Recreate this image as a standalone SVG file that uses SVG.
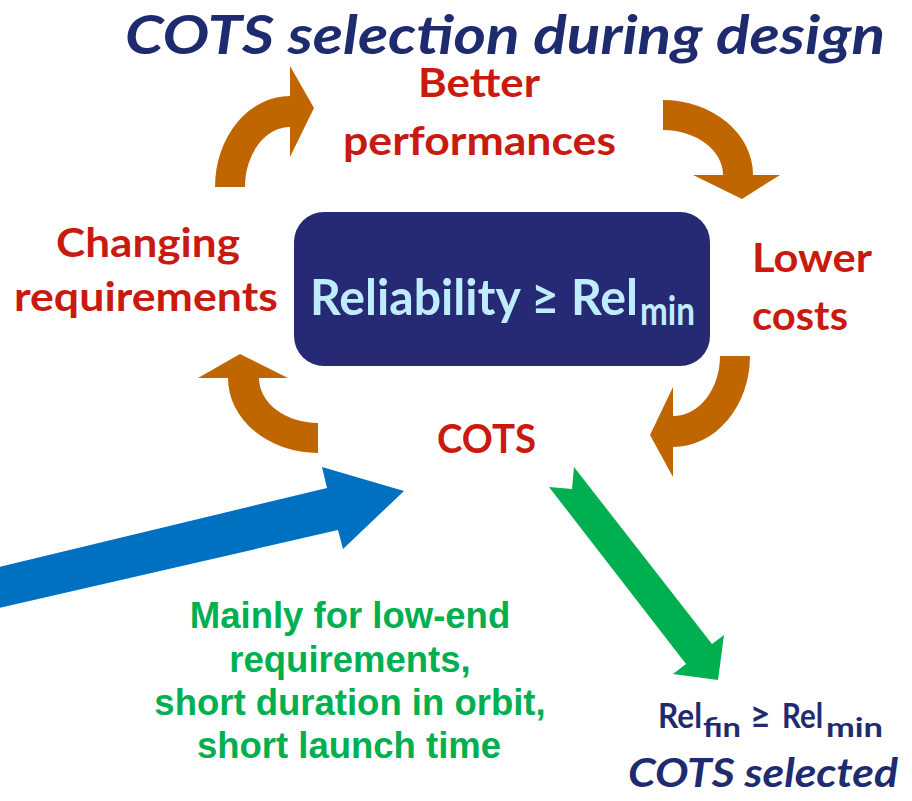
<svg xmlns="http://www.w3.org/2000/svg" width="912" height="801" viewBox="0 0 912 801">
  <style>
    .lbl { font-family: Lato, "Open Sans", "Liberation Sans", sans-serif; font-weight: bold; }
    .red { fill: #C91A10; font-size: 40px; }
    .navy { fill: #1F2B6F; }
    .ital { font-style: italic; }
    .note { font-family: "Liberation Sans", Arial, sans-serif; font-weight: bold; font-size: 36.5px; fill: #00B050; text-anchor: middle; }
    .cycle { fill: #C06600; }
  </style>
  <rect width="912" height="801" fill="#FFFFFF"/>

  <!-- heading -->
  <g id="title">
    <text class="lbl navy ital" x="125" y="54" font-size="54" textLength="760" lengthAdjust="spacingAndGlyphs">COTS selection during design</text>
  </g>

  <!-- arrows: the design loop and the entry/exit paths -->
  <g id="connectors">
    <path class="cycle" d="M215,187 A75,91 0 0 1 290,96 L290,66 L314,108 L290,157 L290,127 A45,60 0 0 0 245,187 Z"/>
    <path class="cycle" d="M663,100 A90,75 0 0 1 753,175 L780,175 L742,199 L693,175 L723,175 A60,45 0 0 0 663,130 Z"/>
    <path class="cycle" d="M750,356 A77,91 0 0 1 673,447 L673,477 L650,435 L673,387 L673,416 A47,60 0 0 0 720,356 Z"/>
    <path class="cycle" d="M318,453 A90,75 0 0 1 228,378 L198,378 L240,354 L288,378 L259,378 A59,45 0 0 0 318,423 Z"/>
    <path fill="#0070C0" d="M-5,568 L327,488 L322,467 L404,491 L343,549 L338,530 L-5,609 Z"/>
    <path fill="#00B050" d="M549,487 L572,489 L574,467 L712,644 L724,635 L718,680 L673,674 L686,664 Z"/>
  </g>

  <!-- central requirement -->
  <g id="node-reliability">
    <rect x="294" y="212" width="416" height="154" rx="30" ry="30" fill="#262A75"/>
    <text class="lbl" fill="#C0ECFF" x="310" y="315" font-size="49" textLength="328" lengthAdjust="spacingAndGlyphs">Reliability ≥ Rel</text>
    <text class="lbl" fill="#C0ECFF" x="640" y="325" font-size="40" textLength="55" lengthAdjust="spacingAndGlyphs">min</text>
  </g>

  <g id="node-better">
    <text class="lbl red" x="418" y="97" textLength="122" lengthAdjust="spacingAndGlyphs">Better</text>
    <text class="lbl red" x="343" y="155" textLength="273" lengthAdjust="spacingAndGlyphs">performances</text>
  </g>

  <g id="node-lower">
    <text class="lbl red" x="752" y="272" textLength="120" lengthAdjust="spacingAndGlyphs">Lower</text>
    <text class="lbl red" x="752" y="330" textLength="96" lengthAdjust="spacingAndGlyphs">costs</text>
  </g>

  <g id="node-cots">
    <text class="lbl red" x="437" y="453" textLength="99" lengthAdjust="spacingAndGlyphs">COTS</text>
  </g>

  <g id="node-changing">
    <text class="lbl red" x="56" y="257" textLength="184" lengthAdjust="spacingAndGlyphs">Changing</text>
    <text class="lbl red" x="14" y="311" textLength="264" lengthAdjust="spacingAndGlyphs">requirements</text>
  </g>

  <g id="note-usage">
    <text class="note" x="350" y="628">Mainly for low-end</text>
    <text class="note" x="350" y="672">requirements,</text>
    <text class="note" x="350" y="715">short duration in orbit,</text>
    <text class="note" x="349" y="758">short launch time</text>
  </g>

  <g id="node-selected">
    <text class="lbl navy" x="658" y="728" font-size="34" textLength="44" lengthAdjust="spacingAndGlyphs">Rel</text>
    <text class="lbl navy" x="703" y="737" font-size="27" textLength="38" lengthAdjust="spacingAndGlyphs">fin</text>
    <text class="lbl navy" x="750" y="728" font-size="36">≥</text>
    <text class="lbl navy" x="782" y="728" font-size="34" textLength="41" lengthAdjust="spacingAndGlyphs">Rel</text>
    <text class="lbl navy" x="826" y="737" font-size="27" textLength="57" lengthAdjust="spacingAndGlyphs">min</text>
    <text class="lbl navy ital" x="628" y="787" font-size="40" textLength="270" lengthAdjust="spacingAndGlyphs">COTS selected</text>
  </g>
</svg>
